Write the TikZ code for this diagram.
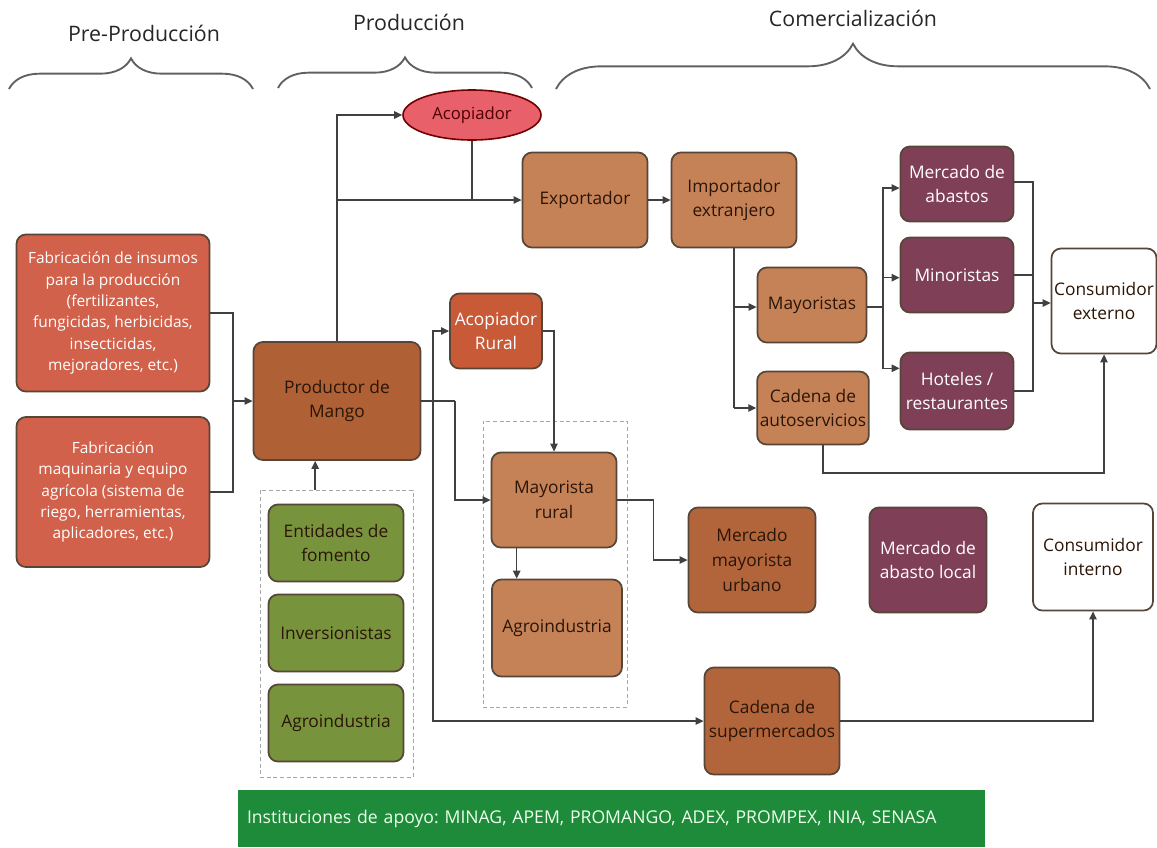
\documentclass[tikz,border=0pt]{standalone}
\usepackage{fontspec}
\setmainfont{Open Sans}
\usetikzlibrary{shapes.geometric, arrows.meta, decorations.pathreplacing}
\frenchspacing

\definecolor{cafe}{HTML}{C68257}
\definecolor{cafeosc}{HTML}{AF6035}
\definecolor{teja}{HTML}{D1614A}
\definecolor{ladrillo}{HTML}{C85A38}
\definecolor{vino}{HTML}{7F3F57}
\definecolor{oliva}{HTML}{77933C}
\definecolor{verde}{HTML}{1E8B3A}
\definecolor{rosa}{HTML}{E8606A}
\definecolor{borde}{HTML}{574538}
\definecolor{gris}{HTML}{404040}
\definecolor{tinta}{HTML}{2B1507}

\begin{document}
\begin{tikzpicture}[x=0.75pt, y=-0.75pt,
  tam/.style 2 args={minimum width=#1*0.75pt, minimum height=#2*0.75pt},
  caja/.style={draw=borde, line width=1.3pt, rounded corners=7pt, align=center,
    inner sep=2pt, text=tinta, font=\fontsize{13}{18.5}\selectfont},
  clara/.style={caja, text=white},
  grupo/.style={draw=gray!70, densely dashed, line width=0.6pt},
  conector/.style={draw=gris, line width=1.2pt},
  flecha/.style={conector, -{Triangle[length=6pt,width=5.5pt]}},
  llave/.style={draw=gray!75!black, line width=1.4pt, decorate},
  titulo/.style={font=\fontsize{16}{20}\selectfont, text=black!85}]
\useasboundingbox (0,0) rectangle (1157,847);

% etapas de la cadena
\node[titulo] (pre) at (144,33) {Pre-Producción};
\node[titulo] (pro) at (409,22) {Producción};
\node[titulo] (com) at (853,18) {Comercialización};
\draw[llave, decoration={brace, amplitude=23pt}] (9,89) -- (253,89);
\draw[llave, decoration={brace, amplitude=23pt}] (278,88) -- (532,88);
\draw[llave, decoration={brace, amplitude=34pt}] (556,89) -- (1150,89);

% grupos punteados
\node[grupo, tam={153}{287}] (apoyo) at (336.5,633.5) {};
\node[grupo, tam={144}{286}] (rural) at (555,564) {};

% pre-produccion
\node[clara, fill=teja, tam={193}{157}, font=\fontsize{11.6}{16}\selectfont] (ins) at (113,313)
  {Fabricación de insumos\\para la producción\\(fertilizantes,\\fungicidas, herbicidas,\\insecticidas,\\mejoradores, etc.)};
\node[clara, fill=teja, tam={193}{150}, font=\fontsize{11.6}{16}\selectfont] (maq) at (113,492)
  {Fabricación\\maquinaria y equipo\\agrícola (sistema de\\riego, herramientas,\\aplicadores, etc.)};

% produccion
\node[caja, fill=cafeosc, tam={167}{118}] (prod) at (337,401) {Productor de\\Mango};
\node[caja, fill=oliva, tam={135}{77}] (ent) at (336,543) {Entidades de\\fomento};
\node[caja, fill=oliva, tam={135}{77}] (inv) at (336,633) {Inversionistas};
\node[caja, fill=oliva, tam={135}{77}] (agv) at (336,723) {Agroindustria};
\node[ellipse, draw=red!45!black, line width=1.2pt, fill=rosa, tam={138}{50},
  text=red!30!black, font=\fontsize{12.5}{15}\selectfont] (acop) at (472,115) {Acopiador};

% comercializacion
\node[caja, fill=cafe, tam={125}{95}] (exp) at (585,200) {Exportador};
\node[caja, fill=cafe, tam={125}{95}] (imp) at (734,200) {Importador\\extranjero};
\node[caja, fill=cafe, tam={109}{75}] (may) at (812,305) {Mayoristas};
\node[caja, fill=cafe, tam={110}{73}] (cae) at (813,408) {Cadena de\\autoservicios};
\node[clara, fill=vino, tam={113}{75}] (mab) at (957,184) {Mercado de\\abastos};
\node[clara, fill=vino, tam={113}{75}] (min) at (957,275) {Minoristas};
\node[clara, fill=vino, tam={113}{77}] (hot) at (957,391) {Hoteles /\\restaurantes};
\node[caja, fill=white, tam={104}{105}] (cex) at (1104,301) {Consumidor\\externo};
\node[clara, fill=ladrillo, tam={92}{75}] (acr) at (496,331) {Acopiador\\Rural};
\node[caja, fill=cafe, tam={125}{95}] (mr) at (554,500) {Mayorista\\rural};
\node[caja, fill=cafe, tam={130}{97}] (agro) at (557,628) {Agroindustria};
\node[caja, fill=cafeosc!85!cafe, tam={127}{105}] (mmu) at (752,560) {Mercado\\mayorista\\urbano};
\node[clara, fill=vino, tam={117}{105}] (mal) at (928,560) {Mercado de\\abasto local};
\node[caja, fill=white, tam={120}{107}] (cin) at (1093,557) {Consumidor\\interno};
\node[caja, fill=cafeosc!85!cafe, tam={135}{107}] (sup) at (772,721) {Cadena de\\supermercados};

% instituciones
\node[fill=verde, tam={747}{57}, text width=729*0.75pt, align=left, inner xsep=9*0.75pt,
  text=green!8!white, font=\fontsize{13.2}{16}\selectfont] (inst) at (611.5,818.5)
  {Instituciones de apoyo: MINAG, APEM, PROMANGO, ADEX, PROMPEX, INIA, SENASA};

% puntos de union
\coordinate (jins) at (233,401);
\coordinate (jrur) at (433,401);
\coordinate (jmr) at (455,401);
\coordinate (jmay) at (883,307);
\coordinate (jext) at (1033,303);
\coordinate (jcae) at (823,473);

% flujos
\draw[conector] (ins.east) -| (jins |- maq.east) -- (maq.east);
\draw[flecha] (jins) -- (prod.west);
\draw[flecha] ([xshift=-16pt]apoyo.north) -- ([xshift=-16pt]apoyo.north |- prod.south);
\draw[flecha] (prod.north) |- (acop.west);
\draw[flecha] (prod.north |- exp.west) -- (exp.west);
\draw[conector] (acop.south) -- (acop.south |- exp.west);
\draw[flecha] (exp) -- (imp);
\draw[conector] (imp.south) -- (imp.south |- cae.west);
\draw[flecha] (imp.south |- jmay) -- (may.west |- jmay);
\draw[flecha] (imp.south |- cae.west) -- (cae.west);
\draw[conector] (may.east |- jmay) -- (jmay);
\draw[flecha] (jmay) |- ([yshift=-3pt]mab.west);
\draw[flecha] (jmay) |- ([yshift=-2pt]min.west);
\draw[flecha] (jmay) |- ([yshift=17pt]hot.west);
\draw[conector] ([yshift=1.5pt]mab.east) -| (jext) |- (hot.east);
\draw[conector] (min.east) -- (min.east -| jext);
\draw[flecha] (jext) -- (jext -| cex.west);
\draw[flecha] (cae.south -| jcae) -- (jcae) -| (cex.south);
\draw[conector] (prod.east) -- (jmr);
\draw[flecha] (jmr) |- (mr.west);
\draw[flecha] (jrur) |- (acr.west);
\draw[flecha] (jrur) |- (sup.west);
\draw[flecha] (acr.east) -| (mr.north);
\draw[flecha] ([xshift=-28pt]mr.south) -- ([xshift=-28pt]mr.south |- agro.north);
\draw[flecha] (mr.east) -- ++(36,0) |- (mmu.west);
\draw[flecha] (sup.east) -| (cin.south);
\end{tikzpicture}
\end{document}
